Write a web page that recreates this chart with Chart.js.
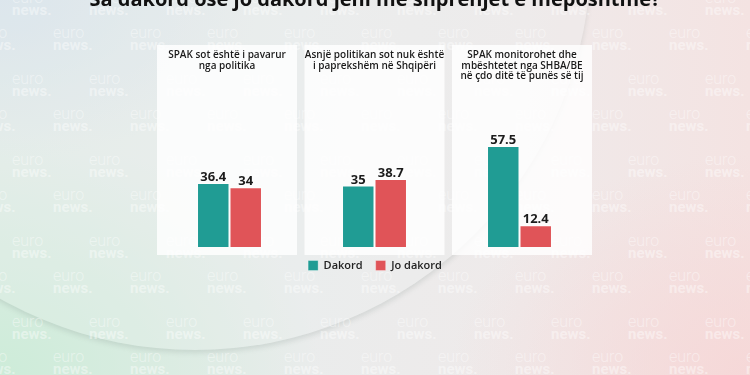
<!DOCTYPE html>
<html><head><meta charset="utf-8">
<script src="https://cdn.jsdelivr.net/npm/chart.js@4.4.0/dist/chart.umd.min.js"></script>
<style>
html,body{margin:0;padding:0;width:750px;height:375px;overflow:hidden;}
#bg{position:absolute;left:0;top:0;width:750px;height:375px;overflow:hidden;
background:
 radial-gradient(ellipse 320px 240px at 0% 100%, rgba(204,236,216,0.95), rgba(204,236,216,0) 100%),
 radial-gradient(ellipse 300px 220px at 100% 100%, rgba(246,214,214,0.85), rgba(246,214,214,0) 100%),
 radial-gradient(ellipse 260px 160px at 0% 0%, rgba(214,226,236,0.9), rgba(214,226,236,0) 100%),
 linear-gradient(90deg, #e3ece8 0%, #eaecec 40%, #efeaea 70%, #f4e3e2 100%);}
#plate{position:absolute;left:-201px;top:-442px;width:792px;height:792px;border-radius:50%;
 box-shadow:0 3px 5px rgba(120,135,130,0.2);background:rgba(236,238,240,0.25);}
.wm{position:absolute;color:rgba(255,255,255,0.42);font-family:Roboto,sans-serif;line-height:12px;white-space:nowrap;}
.wm span{display:block}
.wm .e{font-weight:300;font-size:16px}
.wm .n{font-weight:700;font-size:15px}
#wrap{position:absolute;left:0;top:-20px;width:750px;height:395px;}
</style></head><body>
<div id="bg"><div id="plate"></div></div>
<div id="wrap"><canvas id="c" width="750" height="395"></canvas></div>
<script>
// ---- data ----
const chartTitle = 'Sa dakord ose jo dakord jeni me shprehjet e mëposhtme?';
const categories = [
  ['SPAK sot është i pavarur', 'nga politika'],
  ['Asnjë politikan sot nuk është', 'i paprekshëm në Shqipëri'],
  ['SPAK monitorohet dhe', 'mbështetet nga SHBA/BE', 'në çdo ditë të punës së tij']
];
const seriesNames = ['Dakord', 'Jo dakord'];
const dakordValues = [36.4, 35, 57.5];
const joDakordValues = [34, 38.7, 12.4];

// ---- watermark decoration ----
const bg = document.getElementById('bg');
for (let j = -1; j < 6; j++) {
  for (let i = -1; i < 11; i++) {
    [[12, 11], [53, 46]].forEach(([ox, oy]) => {
      const d = document.createElement('div');
      d.className = 'wm';
      d.style.left = (ox + 77 * i) + 'px';
      d.style.top = (oy + 81 * j - 19) + 'px';
      d.innerHTML = '<span class="e">euro</span><span class="n">news.</span>';
      bg.appendChild(d);
    });
  }
}

// ---- plugins ----
const panelPlugin = {
  id: 'panels',
  beforeDraw(chart) {
    const { ctx, chartArea: a } = chart;
    const w = 140, gap = (a.right - a.left - 3 * w) / 2;
    const top = 65, bottom = 275;
    ctx.save();
    chart.data.labels.forEach((lab, i) => {
      const left = a.left + i * (w + gap);
      ctx.fillStyle = 'rgba(255,255,255,0.82)';
      ctx.fillRect(left, top, w, bottom - top);
      ctx.fillStyle = '#1a1a1a';
      ctx.font = '600 10px "Open Sans"';
      ctx.textAlign = 'center';
      ctx.textBaseline = 'middle';
      lab.forEach((line, k) => ctx.fillText(line, left + w / 2, 75 + k * 10.8));
    });
    ctx.restore();
  }
};
const valuePlugin = {
  id: 'values',
  afterDatasetsDraw(chart) {
    const { ctx } = chart;
    ctx.save();
    ctx.fillStyle = '#1c1c1c';
    ctx.font = '700 13px "Open Sans"';
    ctx.textAlign = 'center';
    ctx.textBaseline = 'alphabetic';
    chart.data.datasets.forEach((ds, di) => {
      chart.getDatasetMeta(di).data.forEach((bar, i) => {
        ctx.fillText(String(ds.data[i]), bar.x, bar.y - 2);
      });
    });
    ctx.restore();
  }
};

const hiddenSide = (width) => ({
  type: 'linear', min: 0, max: 100,
  ticks: { display: false }, grid: { display: false }, border: { display: false },
  afterFit(s) { s.width = width; }
});

new Chart(document.getElementById('c'), {
  type: 'bar',
  data: {
    labels: categories,
    datasets: [
      { label: seriesNames[0], data: dakordValues, backgroundColor: '#209c94', borderColor: 'rgba(255,255,255,0.3)', borderWidth: 1, yAxisID: 'y' },
      { label: seriesNames[1], data: joDakordValues, backgroundColor: '#e05458', borderColor: 'rgba(255,255,255,0.3)', borderWidth: 1, yAxisID: 'y' }
    ]
  },
  options: {
    responsive: false,
    animation: false,
    devicePixelRatio: 1,
    layout: { padding: { left: 0, right: 0, top: 0, bottom: 94 } },
    datasets: { bar: { categoryPercentage: 0.448, barPercentage: 1 } },
    scales: {
      x: { display: false },
      y: Object.assign(hiddenSide(157), { position: 'left' }),
      y2: Object.assign(hiddenSide(158), { position: 'right' })
    },
    plugins: {
      title: {
        display: true,
        text: chartTitle,
        color: '#111',
        font: { family: 'Open Sans', size: 20, weight: '700' },
        padding: { top: 8, bottom: 59.4 }
      },
      legend: {
        position: 'bottom',
        labels: {
          boxWidth: 10, boxHeight: 10, padding: 13,
          color: '#222',
          font: { family: 'Open Sans', size: 11, weight: '600' }
        }
      },
      tooltip: { enabled: false }
    }
  },
  plugins: [panelPlugin, valuePlugin]
});
</script></body></html>
